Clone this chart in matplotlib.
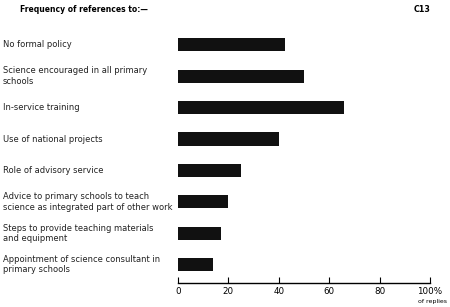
import matplotlib
matplotlib.use("Agg")
import matplotlib.pyplot as plt
import matplotlib.transforms as mtransforms

categories = [
    "No formal policy",
    "Science encouraged in all primary\nschools",
    "In-service training",
    "Use of national projects",
    "Role of advisory service",
    "Advice to primary schools to teach\nscience as integrated part of other work",
    "Steps to provide teaching materials\nand equipment",
    "Appointment of science consultant in\nprimary schools",
]
values = [42.5, 50, 66, 40, 25, 20, 17, 14]
ticks = [0, 20, 40, 60, 80, 100]
tick_labels = ["0", "20", "40", "60", "80", "100%"]

plt.rcParams['font.family'] = ['DejaVu Sans']

fig = plt.figure(figsize=(4.5, 3.07), dpi=100)
ax = fig.add_axes([178/450, 1 - 283/307, 252/450, (283 - 29)/307])

ypos = list(range(len(categories)))
ax.barh(ypos, values, height=0.42, color="#111111")
ax.set_xlim(0, 100)
ax.set_ylim(7.58, -0.5)

for s in ["left", "top", "right"]:
    ax.spines[s].set_visible(False)
ax.spines["bottom"].set_linewidth(1.0)
ax.set_yticks([])
ax.set_xticks(ticks)
ax.set_xticklabels(tick_labels, fontsize=6.3)
ax.tick_params(axis="x", direction="in", length=4, width=0.8, pad=3)

trans = mtransforms.blended_transform_factory(fig.transFigure, ax.transData)
for y, lab in zip(ypos, categories):
    ax.text(3/450, y, lab, transform=trans, ha="left", va="center",
            fontsize=6, linespacing=1.2, color="#222222")

fig.text(20/450, 1 - 9/307, "Frequency of references to:\u2014", fontsize=5.5,
         fontweight="bold", va="center", ha="left")
fig.text(430/450, 1 - 9/307, "C13", fontsize=5.8, fontweight="bold",
         va="center", ha="right")
fig.text(447/450, 1 - 302/307, "of replies", fontsize=4.5, va="center", ha="right")

fig.savefig("out.png", dpi=100)
